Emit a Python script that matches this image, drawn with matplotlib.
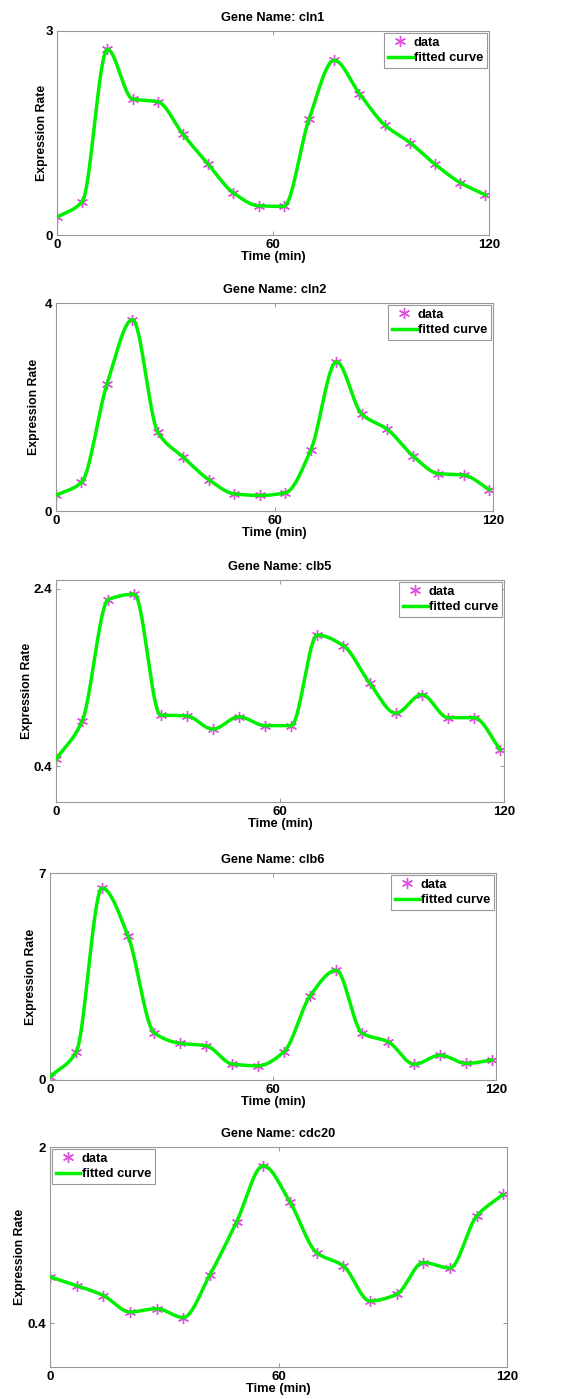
import matplotlib
matplotlib.use("Agg")
import matplotlib.pyplot as plt
import numpy as np

plt.rcParams['font.family'] = ['Liberation Sans', 'DejaVu Sans']
plt.rcParams['font.weight'] = 'bold'

time_min = np.arange(0, 120, 7)

genes = ["cln1", "cln2", "clb5", "clb6", "cdc20"]

cln1 = [0.26, 0.49, 2.73, 2.00, 1.96, 1.48, 1.04, 0.62, 0.43, 0.42,
        1.70, 2.57, 2.08, 1.62, 1.36, 1.04, 0.77, 0.59]
cln2 = [0.30, 0.55, 2.44, 3.68, 1.51, 1.03, 0.60, 0.33, 0.30, 0.35,
        1.18, 2.87, 1.86, 1.57, 1.06, 0.72, 0.69, 0.41]
clb5 = [0.48, 0.91, 2.28, 2.34, 0.98, 0.97, 0.82, 0.96, 0.86, 0.86,
        1.88, 1.76, 1.34, 1.00, 1.21, 0.95, 0.95, 0.59]
clb6 = [0.11, 0.93, 6.49, 4.87, 1.60, 1.24, 1.16, 0.54, 0.48, 0.96,
        2.85, 3.71, 1.58, 1.29, 0.53, 0.84, 0.56, 0.68]
cdc20 = [0.82, 0.74, 0.65, 0.50, 0.53, 0.45, 0.84, 1.32, 1.83, 1.50,
         1.04, 0.92, 0.60, 0.66, 0.95, 0.90, 1.37, 1.57]

series = [cln1, cln2, clb5, clb6, cdc20]
y_lims = [(0, 3), (0, 4), (0, 2.5), (0, 7), (0, 2)]
y_ticks = [[0, 3], [0, 4], [0.4, 2.4], [0, 7], [0.4, 2]]
y_ticklabels = [["0", "3"], ["0", "4"], ["0.4", "2.4"], ["0", "7"], ["0.4", "2"]]
legend_locs = ["upper right"] * 4 + ["upper left"]

# axes boxes in pixels: left, top, right, bottom
boxes = [(57, 31, 489, 235),
         (56, 303, 493, 511),
         (56, 580, 504, 802),
         (50, 873, 496, 1080),
         (50, 1147, 507, 1367)]
# x pixel of the y-label centre
ylabel_x = [40, 32, 25, 29, 18]

W, H = 576, 1399


def pchip(x, y, xs):
    """ Shape preserving cubic through the data (Fritsch-Carlson)."""
    x = np.asarray(x, float)
    y = np.asarray(y, float)
    h = np.diff(x)
    d = np.diff(y) / h
    m = np.zeros_like(y)
    for k in range(1, len(y) - 1):
        if d[k - 1] * d[k] > 0:
            w1 = 2 * h[k] + h[k - 1]
            w2 = h[k] + 2 * h[k - 1]
            m[k] = (w1 + w2) / (w1 / d[k - 1] + w2 / d[k])
    m[0] = d[0]
    m[-1] = d[-1]
    idx = np.clip(np.searchsorted(x, xs) - 1, 0, len(x) - 2)
    t = (xs - x[idx]) / h[idx]
    h00 = 2 * t**3 - 3 * t**2 + 1
    h10 = t**3 - 2 * t**2 + t
    h01 = -2 * t**3 + 3 * t**2
    h11 = t**3 - t**2
    return (h00 * y[idx] + h10 * h[idx] * m[idx]
            + h01 * y[idx + 1] + h11 * h[idx] * m[idx + 1])


fig = plt.figure(figsize=(W / 100, H / 100), dpi=100)
asterisk = (6, 2, 0)
xs = np.linspace(time_min[0], time_min[-1], 600)

for gene, vals, ylim, yt, ytl, loc, (l, t, r, b), ylx in zip(
        genes, series, y_lims, y_ticks, y_ticklabels, legend_locs, boxes,
        ylabel_x):
    ax = fig.add_axes([l / W, 1 - b / H, (r - l) / W, (b - t) / H])
    ax.plot(time_min, vals, linestyle="none", marker=asterisk,
            markersize=8, markeredgewidth=1.0, color="#e050e0",
            label="data", zorder=2)
    ax.plot(xs, pchip(time_min, vals, xs), color="#00f000", linewidth=2.5,
            label="fitted curve", zorder=3)
    ax.set_xlim(0, 120)
    ax.set_ylim(ylim)
    ax.set_xticks([0, 60, 120])
    ax.set_xticklabels(["0", "60", "120"])
    ax.set_yticks(yt)
    ax.set_yticklabels(ytl)
    ax.tick_params(direction="in", length=3, width=0.6, color="#888888",
                   top=True, right=True, labelsize=9.5, pad=3)
    for lab in ax.get_xticklabels() + ax.get_yticklabels():
        lab.set_fontweight("bold")
    for sp in ax.spines.values():
        sp.set_color("#999999")
        sp.set_linewidth(0.8)
    ax.set_title("Gene Name: " + gene, fontsize=9.2, fontweight="bold", pad=7)
    ax.set_xlabel("Time (min)", fontsize=9.3, fontweight="bold", labelpad=0)
    ax.set_ylabel("Expression Rate", fontsize=8.8, fontweight="bold")
    # label anchor is the right edge of the rotated text, so shift by ~half its height
    ax.yaxis.set_label_coords((ylx + 8 - l) / (r - l), 0.5)
    leg = ax.legend(loc=loc, fontsize=9.3, borderaxespad=0.15, fancybox=False,
                    handlelength=1.9, handletextpad=0.1, borderpad=0.3,
                    labelspacing=0.25, framealpha=1)
    leg.get_frame().set_edgecolor("#999999")
    leg.get_frame().set_linewidth(0.8)
    for txt in leg.get_texts():
        txt.set_fontweight("bold")

fig.savefig("out.png", dpi=100)
